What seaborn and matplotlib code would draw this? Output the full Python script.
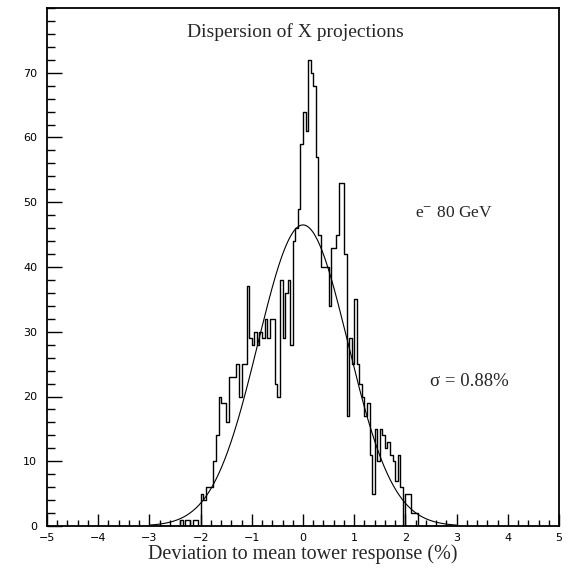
import numpy as np
import pandas as pd
import matplotlib
matplotlib.use('Agg')
import matplotlib.pyplot as plt
import seaborn as sns
from matplotlib.ticker import MultipleLocator

# ---- data ----
bin_left = -3.0
bin_width = 0.05
counts = [0, 0, 0, 0, 0, 0, 0, 0, 0, 0, 0, 0,
          1, 0, 1, 1, 0, 1, 1, 0,
          5, 4, 6, 6, 6, 10, 14, 20, 19, 19,
          16, 23, 23, 23, 25, 20, 25, 25, 37, 29,
          28, 30, 28, 30, 29, 32, 29, 32, 32, 22,
          20, 38, 29, 36, 38, 28, 44, 46, 49, 59,
          64, 61, 72, 70, 68, 57, 45, 40, 40, 40,
          34, 43, 43, 45, 53, 53, 42, 17, 29, 25,
          35, 25, 22, 20, 17, 19, 11, 5, 15, 10,
          15, 14, 12, 13, 11, 10, 7, 11, 6, 0,
          5, 5, 2, 2, 2, 0, 0, 0, 0, 0,
          0, 0, 0, 0, 0, 0, 0, 0, 0, 0]
fit_amplitude = 46.5
fit_mean = 0.0
fit_sigma = 0.88
fit_range = [-3.0, 3.0]
title_text = "Dispersion of X projections"
xlabel_text = "Deviation to mean tower response (%)"
beam_text = "e$^{-}$ 80 GeV"
sigma_text = "σ = 0.88%"
x_ticks = [-5, -4, -3, -2, -1, 0, 1, 2, 3, 4, 5]
y_ticks = [0, 10, 20, 30, 40, 50, 60, 70]

sns.set_style('white')
plt.rcParams['font.family'] = ['DejaVu Sans']
plt.rcParams['mathtext.fontset'] = 'stix'

fig = plt.figure(figsize=(5.67, 5.68), dpi=100)
ax = fig.add_axes([47 / 567, 42 / 568, 512 / 567, 518 / 568])

n_bins = len(counts)
bin_right = bin_left + bin_width * n_bins
centers = bin_left + bin_width * (np.arange(n_bins) + 0.5)
df = pd.DataFrame({'x': centers, 'n': np.asarray(counts, dtype=float)})
sns.histplot(data=df, x='x', weights='n', binwidth=bin_width,
             binrange=(bin_left, bin_right), element='step',
             fill=False, color='black', linewidth=1.0, ax=ax)

xs = np.linspace(fit_range[0], fit_range[1], 400)
gauss = fit_amplitude * np.exp(-0.5 * ((xs - fit_mean) / fit_sigma) ** 2)
sns.lineplot(x=xs, y=gauss, color='black', linewidth=0.8, ax=ax)

ax.set_xlim(-5, 5)
ax.set_ylim(0, 80)
ax.set_xticks(x_ticks)
ax.set_yticks(y_ticks)
ax.xaxis.set_minor_locator(MultipleLocator(0.2))
ax.yaxis.set_minor_locator(MultipleLocator(2))
ax.tick_params(axis='both', which='both', direction='in', top=False,
               right=False, bottom=True, left=True, colors='black',
               labelsize=8, width=1.0)
ax.tick_params(axis='x', which='major', length=9, pad=5)
ax.tick_params(axis='x', which='minor', length=4.5)
ax.tick_params(axis='y', which='major', length=11, pad=7)
ax.tick_params(axis='y', which='minor', length=6)
for s in ax.spines.values():
    s.set_visible(True)
    s.set_color('black')
    s.set_linewidth(1.3)
ax.set_ylabel('')
ax.set_xlabel(xlabel_text, fontfamily='Liberation Serif', fontsize=14.5,
              labelpad=1)

ax.text(0.486, 0.954, title_text, transform=ax.transAxes, ha='center',
        va='center', fontfamily='Liberation Serif', fontsize=14)
ax.text(0.719, 0.604, beam_text, transform=ax.transAxes, ha='left',
        va='center', fontfamily='Liberation Serif', fontsize=12.5)
ax.text(0.748, 0.278, sigma_text, transform=ax.transAxes, ha='left',
        va='center', fontfamily='Liberation Serif', fontsize=13.5)

fig.savefig('out.png', dpi=100, facecolor='white')
